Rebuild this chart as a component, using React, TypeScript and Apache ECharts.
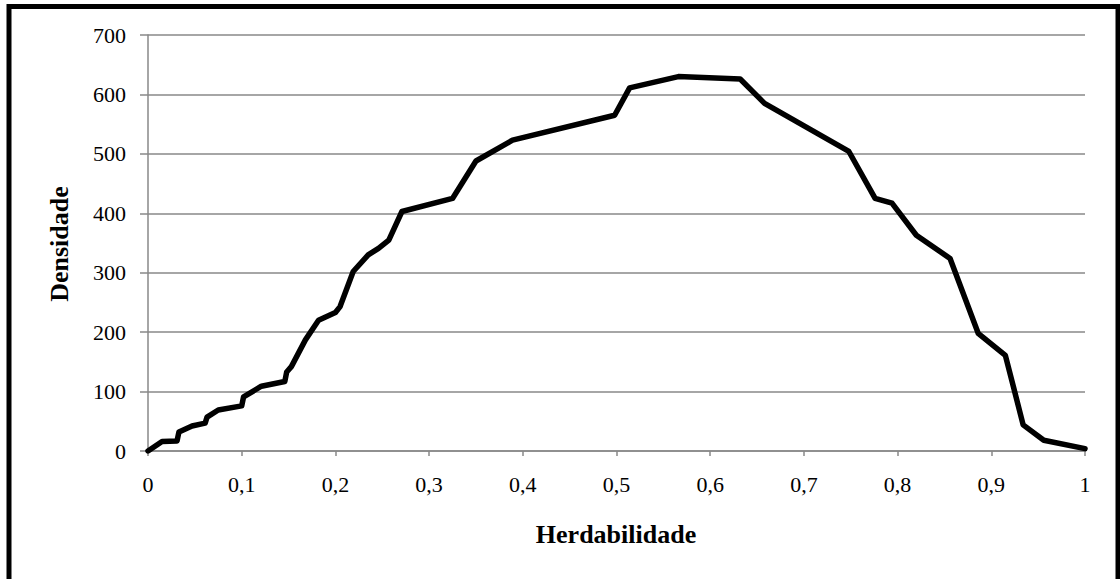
import React, { useEffect, useRef } from "react";
import * as echarts from "echarts";

const herdabilidade = [0, 0.015, 0.031, 0.033, 0.047, 0.061, 0.063, 0.075, 0.1, 0.102, 0.121, 0.146, 0.148, 0.153, 0.168, 0.182, 0.2, 0.205, 0.219, 0.235, 0.246, 0.257, 0.271, 0.325, 0.35, 0.389, 0.498, 0.514, 0.566, 0.632, 0.658, 0.748, 0.776, 0.794, 0.82, 0.856, 0.886, 0.915, 0.934, 0.956, 1.0];
const densidade = [0, 16, 17, 32, 42, 47, 57, 69, 76, 91, 109, 117, 133, 142, 187, 220, 233, 243, 302, 330, 341, 355, 403, 425, 488, 523, 565, 611, 630, 626, 585, 504, 425, 417, 363, 324, 198, 161, 44, 18, 4];
const xTitle = "Herdabilidade";
const yTitle = "Densidade";

const FONT = "'Liberation Serif', 'Times New Roman', serif";

export default function App() {
  const ref = useRef<HTMLDivElement>(null);
  useEffect(() => {
    if (!ref.current) return;
    const chart = echarts.init(ref.current, undefined, { renderer: "svg" });
    const data = herdabilidade.map((x, i) => [x, densidade[i]]);
    chart.setOption({
      animation: false,
      backgroundColor: "#ffffff",
      grid: { left: 148, right: 35, top: 35, bottom: 128 },
      xAxis: {
        type: "value",
        min: 0,
        max: 1,
        interval: 0.1,
        axisLine: { show: true, lineStyle: { color: "#898989", width: 1.5 } },
        axisTick: { show: true, length: 5, lineStyle: { color: "#898989", width: 1.5 } },
        splitLine: { show: false },
        axisLabel: {
          margin: 22,
          color: "#000",
          fontFamily: FONT,
          fontSize: 22,
          formatter: (v: number) => String(Math.round(v * 10) / 10).replace(".", ","),
        },
      },
      yAxis: {
        type: "value",
        min: 0,
        max: 700,
        interval: 100,
        axisLine: { show: true, lineStyle: { color: "#898989", width: 1.5 } },
        axisTick: { show: true, length: 8, lineStyle: { color: "#898989", width: 1.5 } },
        splitLine: { show: true, lineStyle: { color: "#898989", width: 1.5 } },
        axisLabel: { margin: 22, color: "#000", fontFamily: FONT, fontSize: 22 },
      },
      graphic: [
        {
          type: "rect",
          shape: { x: 9, y: 6.5, width: 1109, height: 600 },
          style: { fill: "none", stroke: "#000", lineWidth: 5 },
          silent: true,
        },
        {
          type: "text",
          x: 616,
          y: 534,
          style: {
            text: xTitle,
            fontFamily: FONT,
            fontSize: 26,
            fontWeight: "bold",
            fill: "#000",
            align: "center",
            verticalAlign: "middle",
          },
        },
        {
          type: "text",
          x: 59,
          y: 244,
          rotation: Math.PI / 2,
          style: {
            text: yTitle,
            fontFamily: FONT,
            fontSize: 26,
            fontWeight: "bold",
            fill: "#000",
            align: "center",
            verticalAlign: "middle",
          },
        },
      ],
      series: [
        {
          type: "line",
          data,
          showSymbol: false,
          lineStyle: { color: "#000", width: 5.5, join: "round", cap: "round" },
        },
      ],
    });
    return () => chart.dispose();
  }, []);
  return (
    <div
      ref={ref}
      style={{ position: "absolute", left: 0, top: 0, width: 1120, height: 579 }}
    />
  );
}
